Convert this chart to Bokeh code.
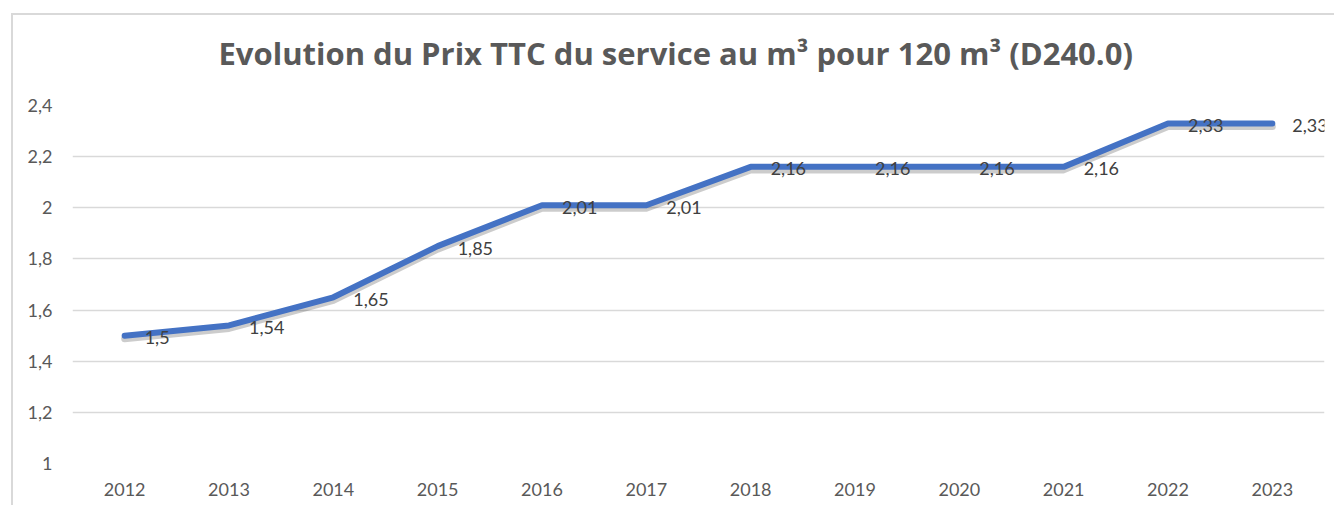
from bokeh.plotting import figure
from bokeh.models import (ColumnDataSource, FactorRange, Range1d, FixedTicker,
                          CustomJSTickFormatter, LabelSet, Title)
from bokeh.core.properties import value
from bokeh.embed import file_html
from bokeh.resources import INLINE

years = ["2012", "2013", "2014", "2015", "2016", "2017",
         "2018", "2019", "2020", "2021", "2022", "2023"]
prices = [1.5, 1.54, 1.65, 1.85, 2.01, 2.01, 2.16, 2.16, 2.16, 2.16, 2.33, 2.33]
price_labels = ["1,5", "1,54", "1,65", "1,85", "2,01", "2,01",
                "2,16", "2,16", "2,16", "2,16", "2,33", "2,33"]
y_ticks = [1, 1.2, 1.4, 1.6, 1.8, 2, 2.2, 2.4]
title_text = "Evolution du Prix TTC du service au m\u00b3 pour 120 m\u00b3 (D240.0)"

FONT = "Lato"

source = ColumnDataSource(data=dict(year=years, price=prices, label=price_labels))

p = figure(x_range=FactorRange(*years, range_padding=0), y_range=Range1d(1, 2.4),
           width=1321, height=490, output_backend="svg", toolbar_location=None,
           min_border_left=59, min_border_right=12, min_border_top=90,
           min_border_bottom=44)
p.x_range.range_padding = 0
p.styles = {"border-left": "2px solid #D9D9D9", "border-top": "2px solid #D9D9D9",
            "margin-left": "11px", "margin-top": "13px", "margin-bottom": "-40px",
            "box-sizing": "content-box", "overflow": "visible"}

p.title.visible = False
# empty spacer between frame and title
spacer = Title(text=" ", text_font_size="1px", standoff=29)
p.add_layout(spacer, "above")
t = Title(text=title_text, align="left", offset=146, text_font="Open Sans",
          text_font_size="31px", text_font_style="bold", text_color="#595959",
          standoff=0)
p.add_layout(t, "above")

p.outline_line_color = None
p.background_fill_color = "white"
p.border_fill_color = "white"

# soft shadow under the line
p.extra_y_ranges = {"shadow": Range1d(1 + 3 * 1.4 / 356, 2.4 + 3 * 1.4 / 356)}
p.line("year", "price", source=source, line_width=7, line_color="#000000",
       line_alpha=0.2, line_join="round", line_cap="round", y_range_name="shadow")
p.line("year", "price", source=source, line_width=6, line_color="#4472C4",
       line_join="round", line_cap="round")

labels = LabelSet(x="year", y="price", text="label", source=source,
                  x_offset=20, y_offset=-2, text_align="left",
                  text_baseline="middle", text_font=value(FONT),
                  text_font_size="18px", text_color="#404040")
p.add_layout(labels)

p.xgrid.grid_line_color = None
p.ygrid.grid_line_color = "#D9D9D9"
p.ygrid.grid_line_width = 1.5
p.yaxis.ticker = FixedTicker(ticks=y_ticks)
p.yaxis.formatter = CustomJSTickFormatter(
    code="return (Math.round(tick*10)/10).toString().replace('.', ',');")

for ax in (p.xaxis, p.yaxis):
    ax.axis_line_color = None
    ax.major_tick_line_color = None
    ax.minor_tick_line_color = None
    ax.major_tick_out = 0
    ax.major_tick_in = 0
    ax.major_label_text_font = FONT
    ax.major_label_text_font_size = "18px"
    ax.major_label_text_color = "#595959"
p.xaxis.major_label_standoff = 19
p.yaxis.major_label_standoff = 20

open("out.html", "w").write(file_html(p, INLINE))
